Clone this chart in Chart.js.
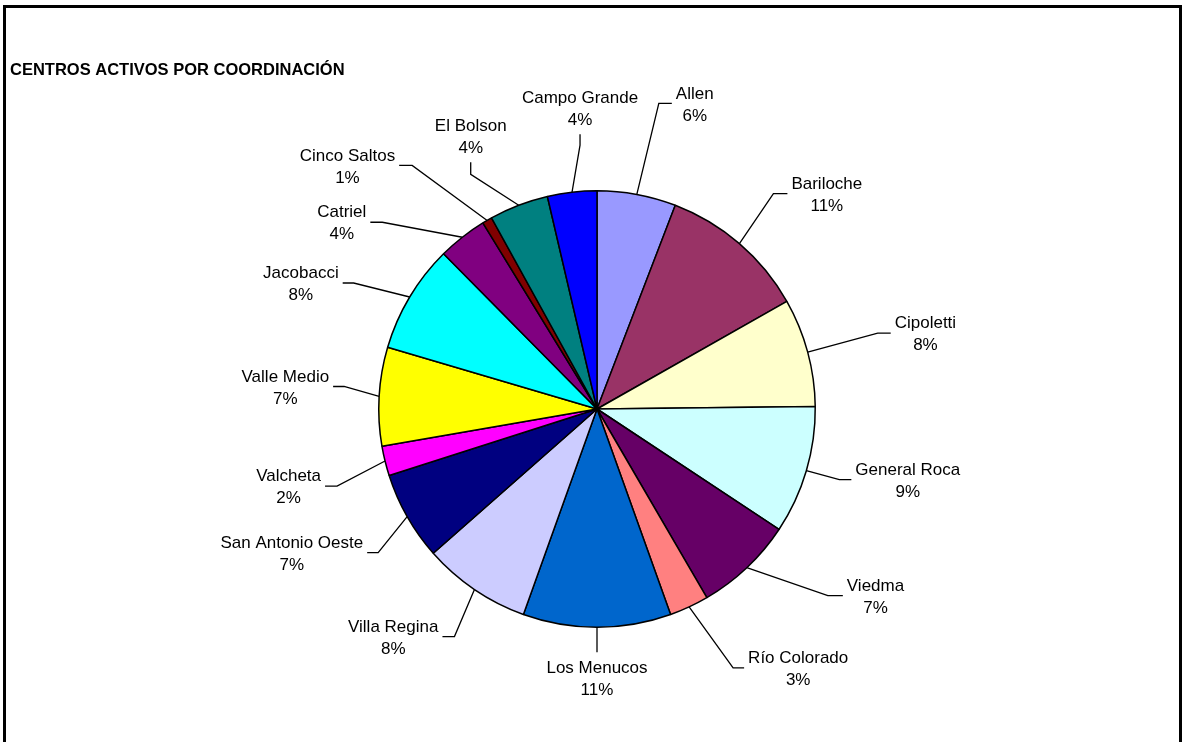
<!DOCTYPE html>
<html>
<head>
<meta charset="utf-8">
<script src="https://cdn.jsdelivr.net/npm/chart.js@4.4.0/dist/chart.umd.min.js"></script>
<style>
body { margin:0; background:#fff; }
#frame { position:absolute; left:3px; top:5px; width:1173px; height:760px; border:3px solid #000; border-bottom:none; }
#chart { position:absolute; left:0; top:0; }
</style>
</head>
<body>
<div id="frame"></div>
<canvas id="chart" width="1185" height="742"></canvas>
<script>
var titulo = "CENTROS ACTIVOS POR COORDINACIÓN";

var coordinaciones = ["Allen", "Bariloche", "Cipoletti", "General Roca", "Viedma", "Río Colorado",
	"Los Menucos", "Villa Regina", "San Antonio Oeste", "Valcheta", "Valle Medio", "Jacobacci",
	"Catriel", "Cinco Saltos", "El Bolson", "Campo Grande"];

var centros = [8, 15, 11, 13, 10, 4, 15, 11, 9, 3, 10, 11, 5, 1, 6, 5];

var colores = ["#9999FF", "#993366", "#FFFFCC", "#CCFFFF", "#660066", "#FF8080",
	"#0066CC", "#CCCCFF", "#000080", "#FF00FF", "#FFFF00", "#00FFFF",
	"#800080", "#800000", "#008080", "#0000FF"];

var fuente = '"Liberation Sans", Arial, sans-serif';

// leader lines: elbow offset from the slice edge, then a short leg (h = sideways, v = up/down)
var guias = {
	elbow: [[22,-91],[34,-50],[70,-19],[33,9],[81,28],[44,61],[0,25],[-20,47],
		[-29,36],[-48,25],[-35,-10],[-56,-14],[-80,-15],[-75,-55],[-48,-31],[8,-47]],
	leg: [13, 14, 13, 12, 15, 11, 0, -12, -11, -12, -11, -11, -12, -13, -12, -11],
	dir: ["h","h","h","h","h","h","v","h","h","h","h","h","h","h","v","v"]
};

var etiquetas = {
	id: "etiquetas",
	afterDatasetsDraw: function(chart, args, opts) {
		var ctx = chart.ctx;
		var meta = chart.getDatasetMeta(0);
		var data = chart.data.datasets[0].data;
		var total = 0;
		data.forEach(function(v) { total += v; });

		ctx.save();
		ctx.strokeStyle = "#000";
		ctx.lineWidth = 1.3;
		ctx.fillStyle = "#000";
		ctx.font = "17px " + fuente;
		ctx.textAlign = "center";
		ctx.textBaseline = "middle";

		meta.data.forEach(function(arc, i) {
			var p = arc.getProps(["x", "y", "startAngle", "endAngle", "outerRadius"], true);
			var a = (p.startAngle + p.endAngle) / 2;
			var x0 = p.x + Math.cos(a) * p.outerRadius;
			var y0 = p.y + Math.sin(a) * p.outerRadius;
			var ex = x0 + guias.elbow[i][0], ey = y0 + guias.elbow[i][1];
			var leg = guias.leg[i];
			var lx = ex, ly = ey;
			if (guias.dir[i] == "h") lx = ex + leg; else ly = ey + leg;

			ctx.beginPath();
			ctx.moveTo(x0, y0);
			ctx.lineTo(ex, ey);
			ctx.lineTo(lx, ly);
			ctx.stroke();

			var l1 = chart.data.labels[i];
			var l2 = Math.round(data[i] / total * 100) + "%";
			var w = Math.max(ctx.measureText(l1).width, ctx.measureText(l2).width);
			var cx, cy;
			if (guias.dir[i] == "h") {
				cx = leg > 0 ? lx + 4 + w / 2 : lx - 4 - w / 2;
				cy = ly - 9.5;
			} else if (leg < 0) {
				cx = lx; cy = ly - 36;
			} else {
				cx = lx; cy = ly + 16;
			}
			ctx.fillText(l1, cx, cy);
			ctx.fillText(l2, cx, cy + 22);
		});

		// title
		ctx.font = "bold 16.5px " + fuente;
		ctx.textAlign = "left";
		ctx.textBaseline = "alphabetic";
		ctx.fillText(titulo, 10, 75);
		ctx.restore();
	}
};

var chart = new Chart(document.getElementById("chart"), {
	type: "pie",
	data: {
		labels: coordinaciones,
		datasets: [{
			data: centros,
			backgroundColor: colores,
			borderColor: "#000",
			borderWidth: 1.5,
			hoverOffset: 0
		}]
	},
	options: {
		responsive: false,
		animation: false,
		devicePixelRatio: 1,
		layout: { padding: { left: 378, right: 369, top: 190, bottom: 114 } },
		plugins: {
			legend: { display: false },
			tooltip: { enabled: false },
			title: { display: false }
		}
	},
	plugins: [etiquetas]
});
</script>
</body>
</html>
